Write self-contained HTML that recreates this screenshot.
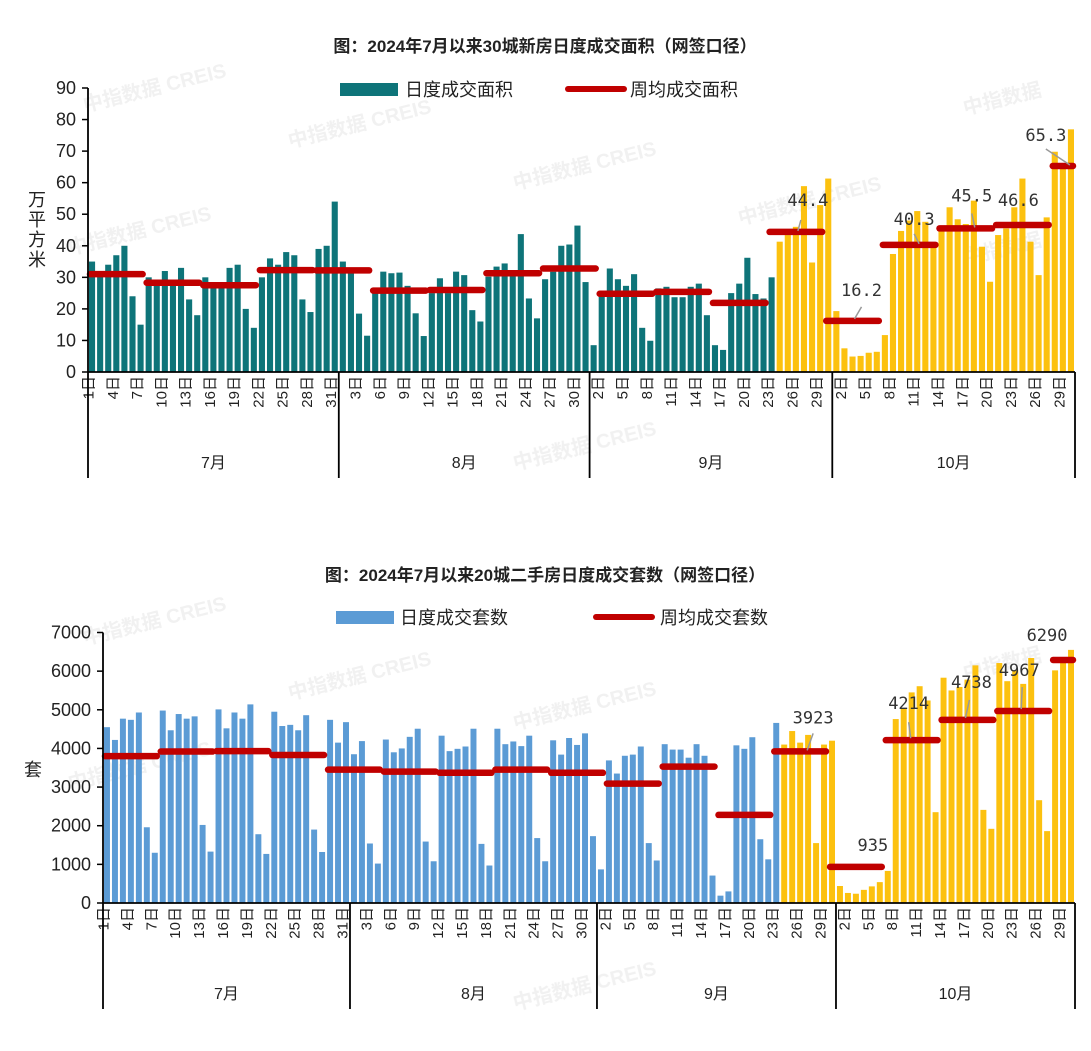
<!DOCTYPE html>
<html><head><meta charset="utf-8">
<style>
html,body{margin:0;padding:0;background:#fff;}
svg{display:block;font-family:"Liberation Sans","Noto Sans CJK SC",sans-serif;}
</style></head>
<body>
<svg id="root" width="1091" height="1051" viewBox="0 0 1091 1051" xmlns="http://www.w3.org/2000/svg">
  <g id="wm" fill="#dcdcdc" font-size="20" font-weight="bold" opacity="0.4">
    <text x="85" y="112" transform="rotate(-14 85 112)">中指数据 CREIS</text>
    <text x="290" y="148" transform="rotate(-14 290 148)">中指数据 CREIS</text>
    <text x="515" y="190" transform="rotate(-14 515 190)">中指数据 CREIS</text>
    <text x="740" y="225" transform="rotate(-14 740 225)">中指数据 CREIS</text>
    <text x="965" y="115" transform="rotate(-14 965 115)">中指数据</text>
    <text x="70" y="255" transform="rotate(-14 70 255)">中指数据 CREIS</text>
    <text x="515" y="470" transform="rotate(-14 515 470)">中指数据 CREIS</text>
    <text x="965" y="265" transform="rotate(-14 965 265)">中指数据</text>
    <text x="85" y="645" transform="rotate(-14 85 645)">中指数据 CREIS</text>
    <text x="290" y="700" transform="rotate(-14 290 700)">中指数据 CREIS</text>
    <text x="515" y="730" transform="rotate(-14 515 730)">中指数据 CREIS</text>
    <text x="965" y="680" transform="rotate(-14 965 680)">中指数据</text>
    <text x="70" y="790" transform="rotate(-14 70 790)">中指数据 CREIS</text>
    <text x="515" y="1010" transform="rotate(-14 515 1010)">中指数据 CREIS</text>
  </g>
  <text x="545" y="52" text-anchor="middle" font-size="17" font-weight="bold" fill="#222">图：2024年7月以来30城新房日度成交面积（网签口径）</text>
  <g>
    <rect x="340" y="83" width="58" height="13" fill="#0e7479"/>
    <text x="405" y="96" font-size="18" fill="#222">日度成交面积</text>
    <line x1="568" y1="89" x2="624" y2="89" stroke="#c00000" stroke-width="6" stroke-linecap="round"/>
    <text x="630" y="96" font-size="18" fill="#222">周均成交面积</text>
  </g>
  <text x="545" y="581" text-anchor="middle" font-size="17" font-weight="bold" fill="#222">图：2024年7月以来20城二手房日度成交套数（网签口径）</text>
  <g>
    <rect x="336" y="611" width="58" height="13" fill="#5b9bd5"/>
    <text x="400" y="624" font-size="18" fill="#222">日度成交套数</text>
    <line x1="596" y1="617" x2="652" y2="617" stroke="#c00000" stroke-width="6" stroke-linecap="round"/>
    <text x="660" y="624" font-size="18" fill="#222">周均成交套数</text>
  </g>
  <g font-size="18" fill="#222" text-anchor="middle">
    <text x="37" y="206">万</text><text x="37" y="226">平</text><text x="37" y="246">方</text><text x="37" y="266">米</text>
  </g>
  <text x="33" y="776" font-size="18" fill="#222" text-anchor="middle">套</text>
  <g id="c1"></g>
  <g id="c2"></g>
</svg>
<script>
const monthNames = ["7月","8月","9月","10月"];
const monthDays = [31,31,30,30];
const areaDaily = [35,31,34,37,40,24,15, 30,29,32,28,33,23,18, 30,27,27,33,34,20,14, 30,36,34,38,37,23,19, 39,40,54,
 35,32,18.5,11.5,25, 31.8,31.3,31.5,27.3,18.6,11.4, 25,29.7,25,31.8,30.7,19.6,16, 30.2,33.4,34.4,31.3,43.7,23.3,17, 29.4,31.8,40,40.4,46.4,28.5,
 8.5, 25,32.8,29.4,27.3,31,14,9.9, 26.5,27,23.7,23.7,27,28,18, 8.5,7,25,28,36.2,24.7,23.3, 30,41.3,43.4,46,58.9,34.7,52.9,61.3,
 19.3,7.5,4.9,5.1,6.1,6.4,11.7, 37.4,44.7,48,51,47.6,40.8, 44.7,52.2,48.4,46.9,54.3,39.7,28.6, 43.4,45.5,52.2,61.3,41.3,30.7,49, 69.8,65.6,76.9];
const areaWeekly = [31,28.3,27.5,32.3,32.2,25.8,26,31.3,32.8,24.8,25.4,21.9,44.4,16.2,40.3,45.5,46.6,65.3];
const areaTicks = [0,10,20,30,40,50,60,70,80,90];
const unitsDaily = [4550,4220,4770,4740,4930,1960,1300, 4980,4470,4890,4770,4830,2020,1330, 5010,4520,4930,4770,5140,1780,1270, 4950,4580,4610,4470,4860,1900,1320, 4740,4150,4680,
 3850,4190,1540,1020, 4230,3900,4000,4300,4510,1590,1080, 4330,3930,3990,4050,4510,1530,970, 4510,4110,4180,4060,4330,1680,1080, 4210,3840,4270,4090,4390,1730,
 870, 3690,3350,3810,3840,4050,1550,1100, 4110,3970,3970,3760,4110,3810,710, 190,300,4080,3990,4290,1650,1130, 4660,4100,4450,4150,4350,1550,4100,4200,
 440,260,240,340,430,540,830, 4760,5030,5450,5610,5240,2350, 5830,5500,5590,5780,6150,2410,1920, 6210,5740,6020,5670,6340,2660,1860, 6020,6260,6550];
const unitsWeekly = [3800,3920,3930,3830,3450,3400,3370,3450,3370,3090,3530,2280,3923,935,4214,4738,4967,6290];
const unitsTicks = [0,1000,2000,3000,4000,5000,6000,7000];
const highlightFrom = 85;
const labeledWeeks = [12,13,14,15,16,17];

const NS = "http://www.w3.org/2000/svg";
function mk(parent, tag, attrs){const e=document.createElementNS(NS,tag);for(const k in attrs)e.setAttribute(k,attrs[k]);parent.appendChild(e);return e;}

const annot1 = [[12,-32,[5,-12,2,-1]],[9,-31,[9,-14,2,-2]],[5,-26,[5,-11,10,-1]],[6,-33,[6,-15,9,-1]],[-4,-25,null],[-17,-31,[-17,-17,7,-1]]];
const annot2 = [[13,-34,[13,-18,7,-1]],[17,-22,null],[-3,-37,[-3,-18,-1,-2]],[4,-38,[2,-20,-2,-2]],[-4,-41,[-1,-24,-2,-2]],[-16,-25,null]];

function draw(cfg){
  const g=document.getElementById(cfg.id);
  const n=cfg.daily.length, slot=(cfg.x1-cfg.x0)/n;
  const xs=i=>cfg.x0+i*slot;
  const ys=v=>cfg.y0-(v-cfg.ticks[0])/(cfg.ticks[cfg.ticks.length-1]-cfg.ticks[0])*(cfg.y0-cfg.yTop);
  cfg.daily.forEach((v,i)=>{
    const r=mk(g,"rect",{x:(xs(i)+1).toFixed(2),y:ys(v).toFixed(2),width:(slot-2).toFixed(2),height:(cfg.y0-ys(v)).toFixed(2),fill:i>=highlightFrom?"#fcc10f":cfg.color});
    
    
  });
  cfg.weekly.forEach((v,w)=>{
    const s=w*7, e=Math.min(w*7+6,n-1);
    const l=mk(g,"line",{x1:(xs(s)+2).toFixed(2),x2:(xs(e+1)-2).toFixed(2),y1:ys(v).toFixed(2),y2:ys(v).toFixed(2),stroke:"#c00000","stroke-width":6.5,"stroke-linecap":"round"});
    
    
  });
  labeledWeeks.forEach((w,k)=>{
    const s=w*7, e=Math.min(w*7+6,n-1), cx=(xs(s)+xs(e+1))/2, cy=ys(cfg.weekly[w]);
    const a=cfg.annot[k];
    if(a[2]){const ld=mk(g,"line",{x1:cx+a[2][0],y1:cy+a[2][1],x2:cx+a[2][2],y2:cy+a[2][3],stroke:"#999","stroke-width":1.5});
      
      }
    const t=mk(g,"text",{x:cx+a[0],y:cy+a[1]+6,"text-anchor":"middle","font-size":17,fill:"#333","font-family":"'DejaVu Sans Mono','Liberation Mono',monospace"});
    t.textContent=cfg.fmt(cfg.weekly[w]);
    
    
  });
  const ax=mk(g,"line",{x1:cfg.x0,x2:cfg.x0,y1:cfg.yTop,y2:cfg.y0,stroke:"#000","stroke-width":1.8});
  
  
  cfg.ticks.forEach(t=>{
    const y=ys(t);
    const tk=mk(g,"line",{x1:cfg.x0-6,x2:cfg.x0,y1:y,y2:y,stroke:"#000","stroke-width":1.5});
    
    
    const tl=mk(g,"text",{x:cfg.x0-12,y:y+6,"text-anchor":"end","font-size":18,fill:"#222"});
    tl.textContent=t;
    
    
  });
  const xa=mk(g,"line",{x1:cfg.x0,x2:cfg.x1,y1:cfg.y0,y2:cfg.y0,stroke:"#000","stroke-width":1.8});
  
  
  let idx=0;
  const bounds=[0];
  monthDays.forEach((md,m)=>{
    for(let d=1;d<=md;d++,idx++){
      if(idx%3===0){
        const cx=xs(idx)+slot/2-3;
        const t=mk(g,"text",{x:0,y:0,"text-anchor":"end","font-size":15,fill:"#222",transform:`translate(${cx.toFixed(1)},${cfg.y0+4}) rotate(-90)`,"dominant-baseline":"central"});
        t.textContent=d+"日";
        
        
      }
    }
    bounds.push(idx);
    const mx=(xs(bounds[m])+xs(idx))/2;
    const ml=mk(g,"text",{x:mx,y:cfg.y0+96,"text-anchor":"middle","font-size":16,fill:"#222"});
    ml.textContent=monthNames[m];
    
    
  });
  bounds.forEach(b=>{
    const dl=mk(g,"line",{x1:xs(b),x2:xs(b),y1:cfg.y0,y2:cfg.y0+106,stroke:"#000","stroke-width":1.8});
    
    
  });
}
draw({id:"c1",daily:areaDaily,weekly:areaWeekly,ticks:areaTicks,x0:88,x1:1075,y0:372,yTop:88,color:"#0e7479",annot:annot1,fmt:v=>v.toFixed(1)});
draw({id:"c2",daily:unitsDaily,weekly:unitsWeekly,ticks:unitsTicks,x0:103,x1:1075,y0:903,yTop:632.5,color:"#5b9bd5",annot:annot2,fmt:v=>String(Math.round(v))});
</script>
</body></html>
